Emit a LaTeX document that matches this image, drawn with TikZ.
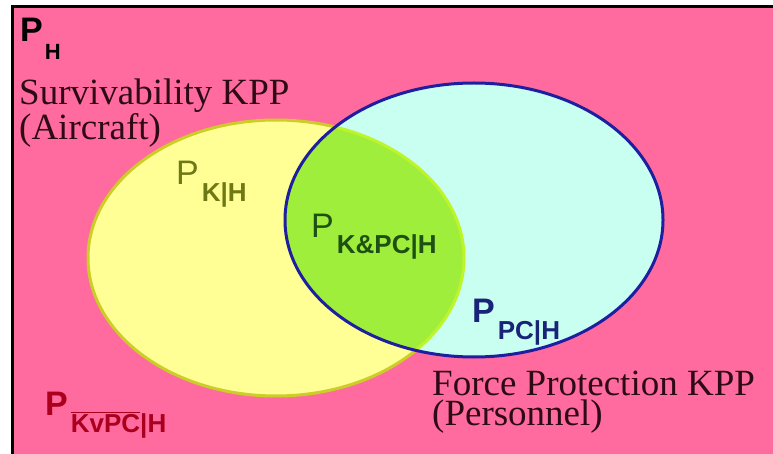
\documentclass[tikz,border=0pt]{standalone}
\usepackage{fontspec}
\setmainfont{Liberation Serif}
\newfontfamily\arialf{Liberation Sans}
\definecolor{pinkbg}{RGB}{255,107,158}
\definecolor{yfill}{RGB}{255,255,150}
\definecolor{yline}{RGB}{205,205,40}
\definecolor{cfill}{RGB}{200,255,240}
\definecolor{gfill}{RGB}{160,238,60}
\definecolor{limeline}{RGB}{190,245,40}
\definecolor{bline}{RGB}{30,30,160}
\definecolor{olivetext}{RGB}{110,120,20}
\definecolor{greentext}{RGB}{30,80,20}
\definecolor{navytext}{RGB}{25,35,120}
\definecolor{redtext}{RGB}{170,0,30}
\definecolor{seriftext}{RGB}{45,10,20}
\newcommand{\psub}[2]{#1\kern3pt\raisebox{-17pt}{\fontsize{26}{26}\selectfont\bfseries #2}}
\begin{document}
\begin{tikzpicture}[x=1pt,y=-1pt,
  plab/.style={inner sep=0pt,anchor=base west,font=\arialf\fontsize{34}{34}\selectfont},
  kpp/.style={inner sep=0pt,anchor=base west,align=left,text=seriftext,
    font=\fontsize{37}{30}\selectfont}]
\useasboundingbox (0,0) rectangle (773,454);
\fill[white] (0,0) rectangle (773,454);
\fill[pinkbg] (12,7) rectangle (773,454);
\draw[line width=3pt,black] (12,454) -- (12,7) -- (773,7);
% ellipses
\coordinate (yc) at (276,258);
\coordinate (bc) at (474,220);
\fill[yfill] (yc) ellipse [x radius=188pt, y radius=138pt];
\draw[yline,line width=3pt] (yc) ellipse [x radius=188pt, y radius=138pt];
\fill[cfill] (bc) ellipse [x radius=189pt, y radius=137pt];
\begin{scope}
  \clip (bc) ellipse [x radius=189pt, y radius=137pt];
  \fill[gfill] (yc) ellipse [x radius=188pt, y radius=138pt];
  \draw[limeline,line width=3pt] (yc) ellipse [x radius=188pt, y radius=138pt];
\end{scope}
\draw[bline,line width=3pt] (bc) ellipse [x radius=189pt, y radius=137pt];
% labels
\node[plab,font=\arialf\bfseries\fontsize{34}{34}\selectfont] (ph) at (20,42) {P\kern2pt\raisebox{-18pt}{\fontsize{22}{22}\selectfont H}};
\node[plab,text=olivetext] (pk) at (176,185) {\psub{P}{K|H}};
\node[plab,text=greentext] (pkpc) at (311,237) {\psub{P}{K\&PC|H}};
\node[plab,text=navytext,font=\arialf\bfseries\fontsize{34}{34}\selectfont] (ppc) at (472,322) {\psub{P}{PC|H}};
\node[plab,text=redtext,font=\arialf\bfseries\fontsize{34}{34}\selectfont] (pnot) at (45,415) {P\kern3pt\raisebox{-17pt}{\fontsize{26}{26}\selectfont\bfseries$\overline{\hbox{KvPC}}$|H}};
\node[kpp] (surv) at (19,140) {Survivability KPP\\(Aircraft)};
\node[kpp] (force) at (432,425) {Force Protection KPP\\(Personnel)};
\end{tikzpicture}
\end{document}
